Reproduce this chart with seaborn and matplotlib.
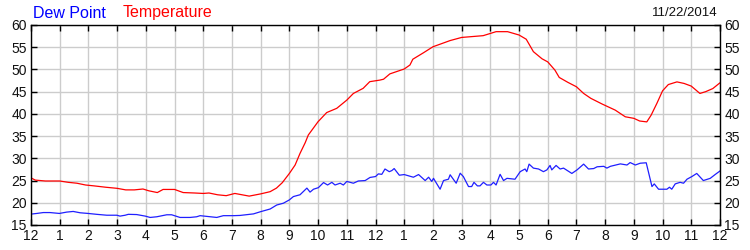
import matplotlib
matplotlib.use("Agg")
import matplotlib.pyplot as plt
import seaborn as sns
import pandas as pd

# ---- data ----
temp_hours = [0.00, 0.15, 0.5, 1.0, 1.3, 1.6, 1.9, 2.2, 2.6, 3.0, 3.3, 3.6, 3.9, 4.1, 4.4,
              4.6, 5.0, 5.3, 5.7, 6.0, 6.2, 6.5, 6.8, 7.1, 7.35, 7.6, 8.0, 8.33, 8.55, 8.75,
              9.0, 9.2, 9.37, 9.55, 9.66, 9.83, 10.0, 10.3, 10.65, 11.0, 11.23, 11.57, 11.8,
              12.15, 12.28, 12.5, 13.0, 13.2, 13.3, 13.67, 14.0, 14.6, 15.0, 15.75, 16.2,
              16.6, 17.0, 17.25, 17.5, 17.8, 18.0, 18.25, 18.4, 18.7, 19.0, 19.25, 19.5,
              19.9, 20.35, 20.7, 21.0, 21.2, 21.45, 21.6, 21.8, 22.0, 22.2, 22.5, 22.75,
              23.0, 23.3, 23.5, 23.75, 24.0]
temp_values = [25.6, 25.1, 24.9, 24.9, 24.6, 24.4, 24.0, 23.8, 23.5, 23.25, 22.9, 22.9, 23.1,
               22.7, 22.3, 23.0, 23.0, 22.3, 22.2, 22.1, 22.2, 21.8, 21.6, 22.1, 21.8, 21.5,
               22.0, 22.5, 23.3, 24.5, 26.6, 28.5, 31.1, 33.5, 35.25, 36.75, 38.25, 40.3,
               41.25, 43.1, 44.6, 45.75, 47.25, 47.6, 47.8, 49.0, 50.1, 51.0, 52.3, 53.75,
               55.1, 56.5, 57.2, 57.6, 58.5, 58.5, 57.75, 56.8, 54.0, 52.4, 51.7, 49.85,
               48.2, 47.1, 46.1, 44.6, 43.5, 42.2, 40.85, 39.35, 39.0, 38.4, 38.2, 39.7,
               42.35, 45.2, 46.6, 47.2, 46.85, 46.25, 44.6, 45.0, 45.7, 47.0]

dew_hours = [0.00, 0.20, 0.43, 0.66, 0.99, 1.24, 1.47, 1.71, 1.99, 2.29, 2.64, 2.99, 3.10,
             3.28, 3.39, 3.68, 3.98, 4.15, 4.38, 4.73, 4.90, 5.19, 5.54, 5.77, 5.89, 6.12,
             6.47, 6.70, 7.05, 7.28, 7.75, 8.00, 8.33, 8.56, 8.79, 9.00, 9.14, 9.37, 9.61,
             9.72, 9.84, 10.01, 10.19, 10.33, 10.48, 10.59, 10.77, 10.88, 11.00, 11.23,
             11.40, 11.64, 11.81, 12.00, 12.10, 12.22, 12.33, 12.48, 12.57, 12.65, 12.83,
             13.00, 13.32, 13.50, 13.73, 13.85, 13.96, 14.02, 14.25, 14.37, 14.54, 14.60,
             14.81, 14.95, 15.06, 15.24, 15.35, 15.43, 15.55, 15.64, 15.76, 15.88, 16.02,
             16.11, 16.20, 16.34, 16.46, 16.58, 16.86, 17.04, 17.21, 17.27, 17.35, 17.50,
             17.68, 17.85, 17.97, 18.08, 18.14, 18.29, 18.43, 18.55, 18.84, 19.02, 19.25,
             19.42, 19.60, 19.72, 19.95, 20.06, 20.18, 20.53, 20.76, 20.87, 21.05, 21.22,
             21.43, 21.63, 21.71, 21.86, 22.15, 22.24, 22.32, 22.44, 22.61, 22.73, 22.85,
             23.02, 23.19, 23.42, 23.66, 23.84, 24.01]
dew_values = [17.45, 17.6, 17.8, 17.8, 17.6, 17.9, 18.05, 17.75, 17.6, 17.4, 17.2, 17.2, 17.0,
              17.2, 17.4, 17.35, 17.0, 16.7, 16.85, 17.3, 17.3, 16.7, 16.7, 16.85, 17.1, 16.95,
              16.7, 17.1, 17.1, 17.15, 17.5, 18.0, 18.6, 19.5, 19.9, 20.65, 21.4, 21.8, 23.3,
              22.4, 23.05, 23.4, 24.55, 24.0, 24.6, 24.0, 24.4, 24.0, 24.8, 24.4, 24.9, 25.0,
              25.7, 25.9, 26.5, 26.4, 27.6, 27.0, 27.25, 27.7, 26.2, 26.35, 25.75, 26.35,
              25.0, 25.75, 24.8, 25.5, 23.05, 25.0, 25.3, 26.3, 24.4, 26.65, 25.9, 23.65,
              23.65, 24.6, 23.8, 23.8, 24.6, 24.0, 24.0, 24.6, 24.0, 26.4, 25.0, 25.5, 25.3,
              27.0, 27.6, 27.0, 28.7, 27.8, 27.6, 27.0, 27.4, 28.4, 27.4, 28.4, 27.6, 27.8,
              26.6, 27.4, 28.7, 27.6, 27.7, 28.1, 28.2, 27.8, 28.2, 28.75, 28.5, 29.05, 28.5,
              28.9, 29.0, 23.65, 24.25, 23.05, 23.05, 23.5, 23.05, 24.25, 24.6, 24.4, 25.3,
              25.9, 26.6, 25.0, 25.5, 26.4, 27.2]

x_tick_labels = ["12", "1", "2", "3", "4", "5", "6", "7", "8", "9", "10", "11",
                 "12", "1", "2", "3", "4", "5", "6", "7", "8", "9", "10", "11", "12"]
y_ticks = [15, 20, 25, 30, 35, 40, 45, 50, 55, 60]
date_label = "11/22/2014"

# ---- plot ----
sns.set_theme(style="white")
plt.rcParams['font.family'] = ['Liberation Sans', 'DejaVu Sans']

fig = plt.figure(figsize=(7.5, 2.5), dpi=100)
ax = fig.add_axes([31 / 750, 25 / 250, 689 / 750, 200 / 250])

temp_df = pd.DataFrame({"hour": temp_hours, "value": temp_values})
dew_df = pd.DataFrame({"hour": dew_hours, "value": dew_values})

sns.lineplot(data=temp_df, x="hour", y="value", ax=ax, color="#ff0000",
             linewidth=0.9, estimator=None, sort=False)
sns.lineplot(data=dew_df, x="hour", y="value", ax=ax, color="#1f1fff",
             linewidth=0.9, estimator=None, sort=False)

ax.set_xlim(0, 24)
ax.set_ylim(15, 60)
ax.set_xticks(range(25))
ax.set_xticklabels(x_tick_labels)
ax.set_yticks(y_ticks)
ax.set_xlabel("")
ax.set_ylabel("")

ax.grid(True, color="#cccccc", linewidth=1.0)
ax.set_axisbelow(True)
for s in ax.spines.values():
    s.set_color("black")
    s.set_linewidth(1.0)

ax.tick_params(axis="both", direction="in", length=4, width=1, color="black",
               labelsize=10, labelcolor="#111111")
ax.tick_params(axis="x", top=True, bottom=True, labeltop=False, pad=3)
ax.tick_params(axis="y", left=True, right=True, labelleft=True, labelright=True, pad=3)

fig.text(33 / 750, 1 - 13 / 250, "Dew Point", color="#0000ff", fontsize=11.5,
         ha="left", va="center")
fig.text(123 / 750, 1 - 13 / 250, "Temperature", color="#ff0000", fontsize=11.5,
         ha="left", va="center")
fig.text(718 / 750, 1 - 13 / 250, date_label, color="#111111", fontsize=9.5,
         ha="right", va="center")

fig.savefig("out.png", dpi=100, facecolor="white")
